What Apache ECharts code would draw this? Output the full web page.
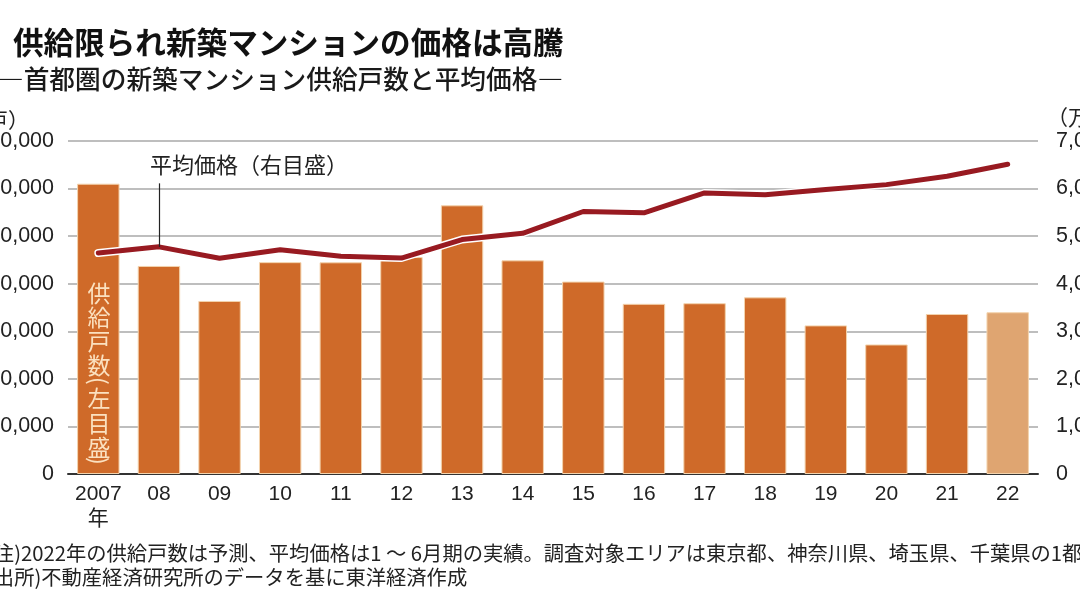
<!DOCTYPE html>
<html>
<head>
<meta charset="utf-8">
<script src="https://cdn.jsdelivr.net/npm/echarts@6/dist/echarts.min.js"></script>
<style>
	html, body { margin: 0; padding: 0; background: #fff; }
	#chart { width: 1080px; height: 607px; }
</style>
</head>
<body>
<div id="chart"></div>
<script>
// 年度
var years = ['2007', '08', '09', '10', '11', '12', '13', '14', '15', '16', '17', '18', '19', '20', '21', '22'];
// 供給戸数（左目盛）
var supplyUnits = [61021, 43733, 36376, 44535, 44499, 45602, 56478, 44913, 40449, 35772, 35898, 37132, 31238, 27228, 33636, 34000];
// 平均価格（右目盛、万円）
var avgPrice = [4644, 4775, 4535, 4716, 4578, 4540, 4929, 5060, 5518, 5490, 5908, 5871, 5980, 6083, 6260, 6510];
// 2022年は予測
var forecastYears = ['22'];
var leftTicks = [0, 70000, 10000];
var rightTicks = [0, 7000, 1000];

var cjk = '"Noto Sans CJK JP"';
var num = '"Liberation Sans", "Noto Sans CJK JP"';
var cream = '#fbe1c0';

var barData = supplyUnits.map(function(v, i) {
	if (forecastYears.indexOf(years[i]) >= 0) {
		return { value: v, itemStyle: { color: '#dfa571' } };
	}
	return v;
});

function comma(v) {
	return String(v).replace(/\B(?=(\d{3})+(?!\d))/g, ',');
}

// 縦書きの括弧は横向きに回して置く
function paren(ch, cy) {
	return {
		type: 'group', x: 99, y: cy, rotation: -Math.PI / 2, z: 100,
		children: [{
			type: 'text', x: 0, y: 0, z: 100,
			style: { text: ch, font: '23px ' + cjk, fill: cream, align: 'center', verticalAlign: 'middle' }
		}]
	};
}

var chart = echarts.init(document.getElementById('chart'));
var option = {
	backgroundColor: '#fff',
	animation: false,
	textStyle: { fontFamily: num },
	grid: { left: 68, right: 42, top: 141, bottom: 133, containLabel: false, outerBoundsMode: 'none' },
	xAxis: {
		type: 'category',
		data: years,
		axisTick: { show: false },
		axisLine: { lineStyle: { color: '#333', width: 2 } },
		axisLabel: {
			interval: 0,
			color: '#222',
			fontSize: 21,
			lineHeight: 25,
			margin: 8,
			fontFamily: num,
			formatter: function(v) {
				return v === '2007' ? '2007\n年' : v;
			}
		}
	},
	yAxis: [{
		type: 'value',
		min: leftTicks[0],
		max: leftTicks[1],
		interval: leftTicks[2],
		axisLine: { show: false },
		axisTick: { show: false },
		splitLine: { lineStyle: { color: '#a8a8a8', width: 1.5 } },
		axisLabel: { color: '#222', fontSize: 21.5, margin: 14, formatter: comma }
	}, {
		type: 'value',
		min: rightTicks[0],
		max: rightTicks[1],
		interval: rightTicks[2],
		axisLine: { show: false },
		axisTick: { show: false },
		splitLine: { show: false },
		axisLabel: { color: '#222', fontSize: 21.5, margin: 18, formatter: comma }
	}],
	series: [{
		name: '供給戸数',
		type: 'bar',
		data: barData,
		barCategoryGap: '30%',
		itemStyle: { color: '#cf6a29', borderColor: '#f3d3ad', borderWidth: 1 }
	}, {
		// 白いふち
		name: 'halo',
		type: 'line',
		yAxisIndex: 1,
		data: avgPrice,
		symbol: 'none',
		silent: true,
		lineStyle: { color: '#fff', width: 8, cap: 'round', join: 'round' }
	}, {
		name: '平均価格',
		type: 'line',
		yAxisIndex: 1,
		data: avgPrice,
		symbol: 'none',
		lineStyle: { color: '#981a21', width: 5, cap: 'round', join: 'round' },
		markLine: {
			silent: true,
			symbol: 'none',
			label: { show: false },
			lineStyle: { color: '#222', width: 1.2, type: 'solid' },
			data: [[{ coord: [years[1], avgPrice[1]] }, { coord: [years[1], 6110] }]]
		}
	}],
	graphic: [{
		type: 'text', x: 13, y: 42, z: 100,
		style: { text: '供給限られ新築マンションの価格は高騰', font: 'bold 30.6px ' + cjk, fill: '#111', verticalAlign: 'middle' }
	}, {
		type: 'text', x: -2, y: 79, z: 100,
		style: { text: '―首都圏の新築マンション供給戸数と平均価格―', font: '500 25.7px ' + cjk, fill: '#1a1a1a', verticalAlign: 'middle' }
	}, {
		type: 'text', x: -34, y: 120, z: 100,
		style: { text: '（戸）', font: '21px ' + cjk, fill: '#222', verticalAlign: 'middle' }
	}, {
		type: 'text', x: 1047, y: 117, z: 100,
		style: { text: '（万円）', font: '21px ' + cjk, fill: '#222', verticalAlign: 'middle' }
	}, {
		type: 'text', x: 150, y: 165, z: 100,
		style: { text: '平均価格（右目盛）', font: '22px ' + cjk, fill: '#222', verticalAlign: 'middle' }
	}, {
		// 縦書き：供給戸数（左目盛）
		type: 'text', x: 99, y: 329, z: 100,
		style: { text: '供\n給\n戸\n数', font: '23px ' + cjk, lineHeight: 24, fill: cream, align: 'center', verticalAlign: 'middle' }
	},
	paren('(', 381),
	{
		type: 'text', x: 99, y: 423, z: 100,
		style: { text: '左\n目\n盛', font: '23px ' + cjk, lineHeight: 24.5, fill: cream, align: 'center', verticalAlign: 'middle' }
	},
	paren(')', 461),
	{
		type: 'text', x: -13, y: 553, z: 100,
		style: { text: '(注)2022年の供給戸数は予測、平均価格は1 ～ 6月期の実績。調査対象エリアは東京都、神奈川県、埼玉県、千葉県の1都3県', font: '20.3px ' + cjk, fill: '#222', verticalAlign: 'middle' }
	}, {
		type: 'text', x: -13, y: 577, z: 100,
		style: { text: '(出所)不動産経済研究所のデータを基に東洋経済作成', font: '20.3px ' + cjk, fill: '#222', verticalAlign: 'middle' }
	}]
};
chart.setOption(option);
window.addEventListener('resize', chart.resize);
</script>
</body>
</html>
